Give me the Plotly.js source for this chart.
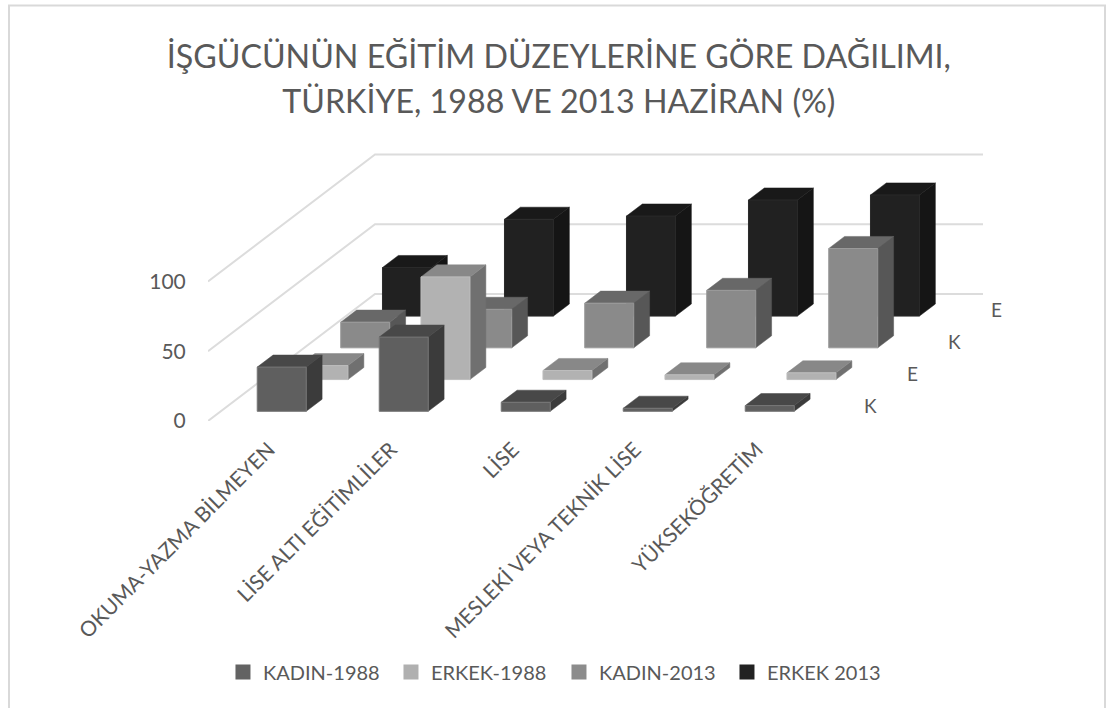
<!DOCTYPE html>
<html><head><meta charset="utf-8">
<script src="https://cdn.plot.ly/plotly-3.0.1.min.js"></script>
<style>html,body{margin:0;padding:0;background:#fff;overflow:hidden}#c{width:1111px;height:708px}</style>
</head><body><div id="c"></div>
<script>
const categories = ["OKUMA-YAZMA BİLMEYEN","LİSE ALTI EĞİTİMLİLER","LİSE","MESLEKİ VEYA TEKNİK LİSE","YÜKSEKÖĞRETİM"];
const seriesNames = ["KADIN-1988","ERKEK-1988","KADIN-2013","ERKEK 2013"];
const depthLabels = ["K","E","K","E"];
const kadin1988 = [31.7,53.2,6.5,2.2,4.1];
const erkek1988 = [10,73.6,6.5,3.4,4.8];
const kadin2013 = [18.4,27.6,32,41.2,71.2];
const erkek2013 = [34.8,69.4,71.7,83.2,86.8];
const seriesValues = [kadin1988,erkek1988,kadin2013,erkek2013];
const yTicks = [0,50,100];
const frontColors = ["#5f5f5f","#b2b2b2","#8a8a8a","#212121"];
const topColors = ["#484848","#888888","#686868","#191919"];
const sideColors = ["#3b3b3b","#707070","#575757","#151515"];
const edgeColors = ["#777777","#bdbdbd","#9a9a9a","#2a2a2a"];
const legendColors = ["#636363","#b0b0b0","#8c8c8c","#222222"];

const PX_X = 122, PX_Y = 1.395;
const DX = 41.75/PX_X, DY = 31.75/PX_Y;
const BAR_W = 49/122, GAP_D = 0.305, BAR_D = 0.38;
const TEXT = "#595959", FONT = "Lato, 'Open Sans', sans-serif";

function pt(c,v,d){return [c+d*DX, v+d*DY];}
function poly(corners){
  const xs=[],ys=[];
  corners.forEach(k=>{const p=pt(k[0],k[1],k[2]);xs.push(p[0]);ys.push(p[1]);});
  xs.push(xs[0],null);ys.push(ys[0],null);
  return [xs,ys];
}
function faceTrace(polys,color,edge){
  const x=[],y=[];
  polys.forEach(p=>{x.push(...p[0]);y.push(...p[1]);});
  return {type:"scatter",mode:"lines",x,y,fill:"toself",fillcolor:color,
    line:{color:edge||color,width:edge?1:0.5},showlegend:false,hoverinfo:"skip"};
}
const traces=[];
// legend entries
seriesNames.forEach((n,i)=>traces.push({type:"scatter",mode:"markers",x:[null],y:[null],name:n,
  marker:{symbol:"square",size:15,color:legendColors[i]},showlegend:true,hoverinfo:"skip"}));
// wall and floor grid
const L=208,T=145,R=983,B=421;
yTicks.forEach(v=>{
  const a=pt(0,v,0),b=pt(0,v,4),c=pt((R-L)/PX_X-4*DX,v,4);
  traces.push({type:"scatter",mode:"lines",x:[a[0],b[0],c[0]],y:[a[1],b[1],c[1]],cliponaxis:false,
    line:{color:"#dcdcdc",width:2},showlegend:false,hoverinfo:"skip"});
});
// bars, back row first
for(let r=seriesValues.length-1;r>=0;r--){
  const side=[],top=[],front=[];
  seriesValues[r].forEach((v,i)=>{
    const c0=i+(1-BAR_W)/2,c1=c0+BAR_W,d0=r+GAP_D,d1=d0+BAR_D;
    side.push(poly([[c1,0,d0],[c1,0,d1],[c1,v,d1],[c1,v,d0]]));
    top.push(poly([[c0,v,d0],[c1,v,d0],[c1,v,d1],[c0,v,d1]]));
    front.push(poly([[c0,0,d0],[c1,0,d0],[c1,v,d0],[c0,v,d0]]));
  });
  traces.push(faceTrace(side,sideColors[r]));
  traces.push(faceTrace(top,topColors[r]));
  traces.push(faceTrace(front,frontColors[r],edgeColors[r]));
}
const annotations=depthLabels.map((t,r)=>{
  const p=pt(5,0,r+0.5);
  return {x:p[0],y:p[1],xref:"x",yref:"y",text:t,showarrow:false,xshift:32,
    font:{family:FONT,size:19,color:TEXT}};
});
const layout={
  width:1111,height:708,paper_bgcolor:"#fff",plot_bgcolor:"rgba(0,0,0,0)",
  margin:{l:L,r:1111-R,t:T,b:708-B,pad:0},
  title:{text:'<span style="font-size:32.2px">İŞGÜCÜNÜN EĞİTİM DÜZEYLERİNE GÖRE DAĞILIMI,</span><br><span style="font-size:32.2px">TÜRKİYE, 1988 VE 2013 HAZİRAN (%)</span>',
    x:0.503,xref:"container",xanchor:"center",y:0.904,yref:"container",yanchor:"top",
    font:{family:FONT,size:34.6,color:TEXT}},
  xaxis:{range:[0,(R-L)/PX_X],showgrid:false,zeroline:false,showline:false,
    tickmode:"array",tickvals:categories.map((_,i)=>i+0.5),ticktext:categories,tickangle:-45,
    ticks:"outside",ticklen:7,tickcolor:"rgba(0,0,0,0)",
    tickfont:{family:FONT,size:21,color:TEXT},automargin:false},
  yaxis:{range:[0,(B-T)/PX_Y],showgrid:false,zeroline:false,showline:false,
    tickmode:"array",tickvals:yTicks,ticktext:yTicks.map(String),
    ticks:"outside",ticklen:17,tickcolor:"rgba(0,0,0,0)",
    tickfont:{family:FONT,size:21,color:TEXT},automargin:false},
  legend:{orientation:"h",xref:"container",yref:"container",x:0.2007,y:0.051,xanchor:"left",yanchor:"middle",
    entrywidth:123,entrywidthmode:"pixels",font:{family:FONT,size:20,color:TEXT},traceorder:"normal",
    bgcolor:"rgba(0,0,0,0)"},
  annotations,
  shapes:[{type:"rect",xref:"paper",yref:"paper",x0:(9-L)/(R-L),x1:(1105-L)/(R-L),
    y0:(B-730)/(B-T),y1:(B-5.5)/(B-T),line:{color:"#d9d9d9",width:2},fillcolor:"rgba(0,0,0,0)",layer:"below"}]
};
Plotly.newPlot("c",traces,layout,{displayModeBar:false,staticPlot:true});
</script></body></html>
